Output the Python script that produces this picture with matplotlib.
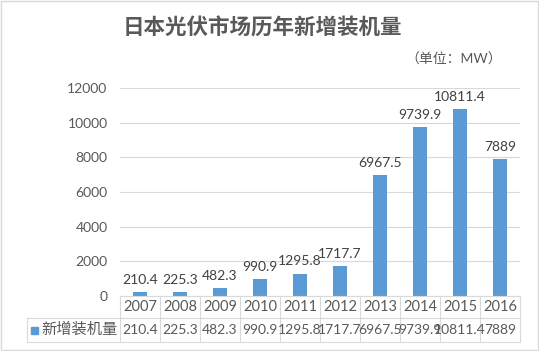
import matplotlib
matplotlib.use("Agg")
import matplotlib.pyplot as plt
from matplotlib.transforms import blended_transform_factory
from matplotlib.patches import Rectangle

plt.rcParams['font.family'] = ['Lato', 'Noto Sans CJK SC', 'DejaVu Sans']

years = ['2007', '2008', '2009', '2010', '2011', '2012', '2013', '2014', '2015', '2016']
values = [210.4, 225.3, 482.3, 990.9, 1295.8, 1717.7, 6967.5, 9739.9, 10811.4, 7889]
labels = ['210.4', '225.3', '482.3', '990.9', '1295.8', '1717.7', '6967.5', '9739.9', '10811.4', '7889']
series_name = '新增装机量'
title = '日本光伏市场历年新增装机量'
unit = '（单位：MW）'
yticks = [0, 2000, 4000, 6000, 8000, 10000, 12000]

W, H = 539, 351
fig = plt.figure(figsize=(W / 100, H / 100), dpi=100)
fig.patch.set_facecolor('white')

def fx(px):
    return px / W

def fy(py):
    return 1 - py / H

ax = fig.add_axes([fx(120), fy(296), fx(520) - fx(120), fy(88) - fy(296)])
bar_color = '#5B9BD5'
text_color = '#595959'
grid_color = '#D9D9D9'

xs = list(range(len(years)))
ax.bar(xs, values, width=0.35, color=bar_color, zorder=3)
for x, v, lab in zip(xs, values, labels):
    ax.text(x, v + 350, lab, ha='center', va='bottom', fontsize=10, color='#404040')

ax.set_xlim(-0.5, len(years) - 0.5)
ax.set_ylim(0, 12000)
ax.set_yticks(yticks)
ax.set_yticklabels([str(t) for t in yticks], fontsize=10, color=text_color)
ax.tick_params(axis='y', length=0, pad=9)
ax.set_xticks([])
ax.yaxis.grid(True, color=grid_color, linewidth=0.8, zorder=0)
for s in ax.spines.values():
    s.set_visible(False)

# data table
tr = blended_transform_factory(ax.transData, fig.transFigure)
y0, y1, y2 = fy(296), fy(318), fy(342)
for i in range(len(years) + 1):
    xb = -0.5 + i
    fig.add_artist(plt.Line2D([xb, xb], [y0, y2], transform=tr, color=grid_color, lw=0.8))
fig.add_artist(plt.Line2D([-0.5, len(years) - 0.5], [y0, y0], transform=tr, color=grid_color, lw=0.8))
fig.add_artist(plt.Line2D([fx(27), fx(520)], [y1, y1], transform=fig.transFigure, color=grid_color, lw=0.8))
fig.add_artist(plt.Line2D([fx(27), fx(520)], [y2, y2], transform=fig.transFigure, color=grid_color, lw=0.8))
fig.add_artist(plt.Line2D([fx(27), fx(27)], [y1, y2], transform=fig.transFigure, color=grid_color, lw=0.8))

for x, yr, lab in zip(xs, years, labels):
    fig.text(x, (y0 + y1) / 2, yr, transform=tr, ha='center', va='center', fontsize=10.5, color=text_color)
    fig.text(x, (y1 + y2) / 2, lab, transform=tr, ha='center', va='center', fontsize=10, color=text_color)

fig.add_artist(Rectangle((fx(31), fy(334)), fx(7), fy(327) - fy(334), transform=fig.transFigure,
                         color=bar_color))
fig.text(fx(41), (y1 + y2) / 2, series_name, ha='left', va='center', fontsize=11, color=text_color)

fig.text(fx(262), fy(28), title, ha='center', va='center', fontsize=15.5, color='#595959', fontweight='bold')
fig.text(fx(502), fy(59), unit, ha='right', va='center', fontsize=10, color=text_color)

# outer border
fig.add_artist(Rectangle((0.002, 0.002), 0.996, 0.996, transform=fig.transFigure, fill=False,
                         edgecolor='#D9D9D9', lw=1))

fig.savefig('out.png', dpi=100, facecolor='white')
